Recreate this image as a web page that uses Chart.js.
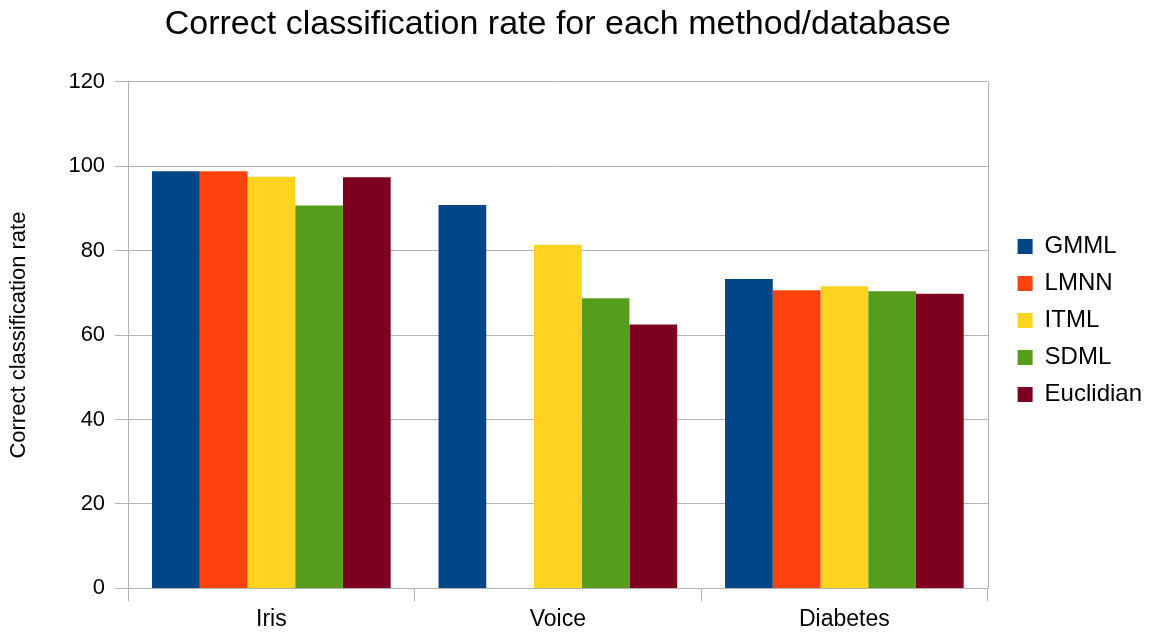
<!DOCTYPE html>
<html>
<head>
<meta charset="utf-8">
<script src="https://cdn.jsdelivr.net/npm/chart.js@4/dist/chart.umd.min.js"></script>
<style>
html,body{margin:0;padding:0;background:#fff;}
#wrap{width:1152px;height:637px;position:relative;}
</style>
</head>
<body>
<div id="wrap"><canvas id="c" width="1152" height="637"></canvas></div>
<script>
const categories = ["Iris", "Voice", "Diabetes"];
const seriesNames = ["GMML", "LMNN", "ITML", "SDML", "Euclidian"];
const gmml = [98.8, 90.8, 73.3];
const lmnn = [98.8, null, 70.6];
const itml = [97.5, 81.4, 71.6];
const sdml = [90.7, 68.7, 70.4];
const euclidian = [97.4, 62.5, 69.8];
const yTicks = [0, 20, 40, 60, 80, 100, 120];
const colors = ["#004586", "#ff420e", "#ffd320", "#579d1c", "#7e0021"];

const values = [gmml, lmnn, itml, sdml, euclidian];
const FONT = "'Liberation Sans', Arial, sans-serif";

const framePlugin = {
  id: 'frame',
  afterLayout(chart) {
    // centre the title over the plot area
    const tb = chart.titleBlock;
    if (tb) {
      tb.left = chart.chartArea.left;
      tb.right = chart.chartArea.right;
      tb.width = tb.right - tb.left;
    }
  },
  beforeDatasetsDraw(chart) {
    const a = chart.chartArea, ctx = chart.ctx;
    ctx.save();
    ctx.strokeStyle = '#b3b3b3';
    ctx.lineWidth = 1;
    ctx.beginPath();
    ctx.moveTo(Math.round(a.right) + 0.5, a.top);
    ctx.lineTo(Math.round(a.right) + 0.5, a.bottom);
    ctx.stroke();
    ctx.restore();
  }
};

new Chart(document.getElementById('c'), {
  type: 'bar',
  data: {
    labels: categories,
    datasets: seriesNames.map((n, i) => ({
      label: n,
      data: values[i],
      backgroundColor: colors[i],
      borderWidth: 0,
      categoryPercentage: 0.833,
      barPercentage: 1.0
    }))
  },
  options: {
    responsive: false,
    animation: false,
    devicePixelRatio: 1,
    layout: { padding: { left: 6, right: 0, top: 4, bottom: 0 } },
    plugins: {
      title: {
        display: true,
        text: 'Correct classification rate for each method/database',
        color: '#000',
        font: { family: FONT, size: 34, weight: 'normal' },
        padding: { top: 0, bottom: 37 }
      },
      legend: {
        position: 'right',
        align: 'center',
        labels: {
          color: '#000',
          font: { family: FONT, size: 24 },
          boxWidth: 15,
          boxHeight: 15,
          padding: 13
        }
      },
      tooltip: { enabled: false }
    },
    scales: {
      x: {
        offset: true,
        grid: {
          offset: true,
          drawOnChartArea: false,
          drawTicks: true,
          tickLength: 13,
          color: '#b3b3b3'
        },
        border: { color: '#b3b3b3' },
        ticks: {
          color: '#000',
          font: { family: FONT, size: 23 },
          padding: 4
        }
      },
      y: {
        min: 0,
        max: 120,
        afterBuildTicks(axis) { axis.ticks = yTicks.map(v => ({ value: v })); },
        grid: {
          color: '#b3b3b3',
          tickLength: 13
        },
        border: { color: '#b3b3b3' },
        ticks: {
          color: '#000',
          font: { family: FONT, size: 22 },
          padding: 10
        },
        title: {
          display: true,
          text: 'Correct classification rate',
          color: '#000',
          font: { family: FONT, size: 22 },
          padding: { top: 0, bottom: 26 }
        }
      },
      gap: {
        type: 'linear',
        position: 'right',
        display: true,
        grid: { display: false, drawTicks: false },
        border: { display: false },
        ticks: { display: false },
        afterFit(s) { s.width = 17; }
      }
    }
  },
  plugins: [framePlugin]
});
</script>
</body>
</html>
